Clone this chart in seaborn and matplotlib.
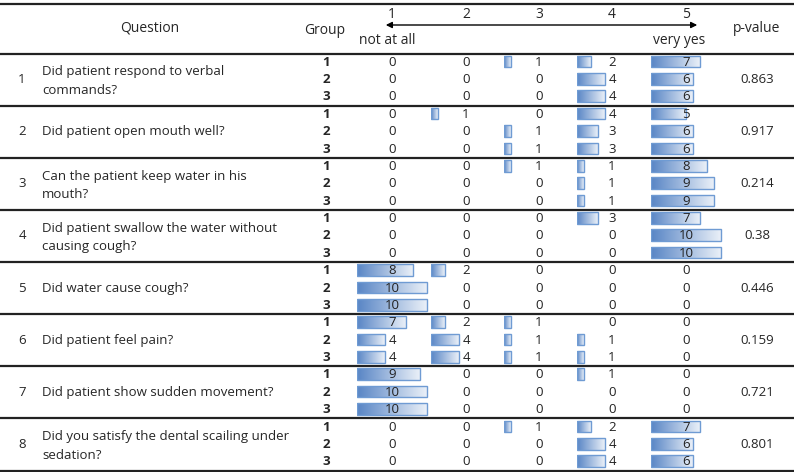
import numpy as np
import pandas as pd
import matplotlib
matplotlib.use("Agg")
import matplotlib.pyplot as plt
import seaborn as sns
from matplotlib.colors import LinearSegmentedColormap

sns.set_theme(style="white")
plt.rcParams["font.family"] = ["Open Sans", "DejaVu Sans"]

questions = [
    "Did patient respond to verbal\ncommands?",
    "Did patient open mouth well?",
    "Can the patient keep water in his\nmouth?",
    "Did patient swallow the water without\ncausing cough?",
    "Did water cause cough?",
    "Did patient feel pain?",
    "Did patient show sudden movement?",
    "Did you satisfy the dental scailing under\nsedation?",
]
p_values = ["0.863", "0.917", "0.214", "0.38", "0.446", "0.159", "0.721", "0.801"]
groups = ["1", "2", "3"]
scale_labels = ["1", "2", "3", "4", "5"]

# counts per question, rows = group 1..3, columns = answer 1..5
counts = [
    [[0, 0, 1, 2, 7], [0, 0, 0, 4, 6], [0, 0, 0, 4, 6]],
    [[0, 1, 0, 4, 5], [0, 0, 1, 3, 6], [0, 0, 1, 3, 6]],
    [[0, 0, 1, 1, 8], [0, 0, 0, 1, 9], [0, 0, 0, 1, 9]],
    [[0, 0, 0, 3, 7], [0, 0, 0, 0, 10], [0, 0, 0, 0, 10]],
    [[8, 2, 0, 0, 0], [10, 0, 0, 0, 0], [10, 0, 0, 0, 0]],
    [[7, 2, 1, 0, 0], [4, 4, 1, 1, 0], [4, 4, 1, 1, 0]],
    [[9, 0, 0, 1, 0], [10, 0, 0, 0, 0], [10, 0, 0, 0, 0]],
    [[0, 0, 1, 2, 7], [0, 0, 0, 4, 6], [0, 0, 0, 4, 6]],
]

rows = []
for qi, q in enumerate(counts):
    for gi, g in enumerate(q):
        for ai, v in enumerate(g):
            rows.append({"row": qi * 3 + gi, "answer": ai, "count": v})
df = pd.DataFrame(rows)

W, H = 794, 472
fig = plt.figure(figsize=(W / 100, H / 100), dpi=100)
bg = fig.add_axes([0, 0, 1, 1])
bg.set_xlim(0, W)
bg.set_ylim(H, 0)
bg.axis("off")

top, bottom = 53.5, 470.5
n_rows = 24
row_h = (bottom - top) / n_rows
grp_h = row_h * 3
fs = 9.5

# table rules
for y in [3.5] + [top + grp_h * k for k in range(9)]:
    bg.axhline(y, color="#222222", lw=1.6)

# header
bg.text(150, 28, "Question", ha="center", va="center", fontsize=fs + 0.5)
bg.text(325, 30, "Group", ha="center", va="center", fontsize=fs + 0.5)
bg.text(757, 28, "p-value", ha="center", va="center", fontsize=fs + 0.5)
col_left = [357, 431, 504, 577, 651]
for lab, x0 in zip(scale_labels, col_left):
    bg.text(x0 + 35, 15, lab, ha="center", va="center", fontsize=fs + 0.5)
bg.annotate("", xy=(700, 25), xytext=(383, 25),
            arrowprops=dict(arrowstyle="<|-|>", color="black", lw=1, mutation_scale=9))
bg.text(359, 41, "not at all", ha="left", va="center", fontsize=fs + 0.5)
bg.text(705, 41, "very yes", ha="right", va="center", fontsize=fs + 0.5)

# question / group / p-value text
for qi, q in enumerate(questions):
    yc = top + grp_h * qi + grp_h / 2
    dy = 1.5 if "\n" in q else 0
    bg.text(22, yc, str(qi + 1), ha="center", va="center", fontsize=fs)
    bg.text(42, yc + dy, q, ha="left", va="center", fontsize=fs, linespacing=1.55)
    bg.text(757, yc, p_values[qi], ha="center", va="center", fontsize=fs)
    for gi, g in enumerate(groups):
        yr = top + grp_h * qi + row_h * (gi + 0.5)
        bg.text(330, yr, g, ha="right", va="center", fontsize=fs, fontweight="bold")

cmap = LinearSegmentedColormap.from_list("databar", ["#5885c5", "#eaf0f8"])
grad = np.linspace(0, 1, 256).reshape(1, -1)
px_per_unit = 7.0
cell_w = 73.5

for ai, x0 in enumerate(col_left):
    ax = fig.add_axes([x0 / W, 1 - bottom / H, cell_w / W, (bottom - top) / H])
    sub = df[df["answer"] == ai]
    sns.barplot(data=sub, x="count", y="row", orient="h", ax=ax,
                color="#5885c5", width=0.67, edgecolor="#6f9bd3", linewidth=1.0)
    for p in ax.patches:
        w = p.get_width()
        if w <= 0:
            p.set_visible(False)
            continue
        p.set_y(p.get_y() - 0.04)
        x, y, h = p.get_x(), p.get_y(), p.get_height()
        im = ax.imshow(grad, extent=[x, x + w, y + h, y], aspect="auto",
                       cmap=cmap, zorder=1.5, interpolation="bilinear")
        im.set_clip_path(p)
        p.set_facecolor("none")
        p.set_zorder(2)
    for _, r in sub.iterrows():
        ax.text(35 / px_per_unit, r["row"], str(r["count"]), ha="center", va="center",
                fontsize=fs, color="#222222", zorder=3)
    ax.set_xlim(0, cell_w / px_per_unit)
    ax.set_ylim(n_rows - 0.5, -0.5)
    ax.axis("off")

fig.savefig("out.png", dpi=100)
